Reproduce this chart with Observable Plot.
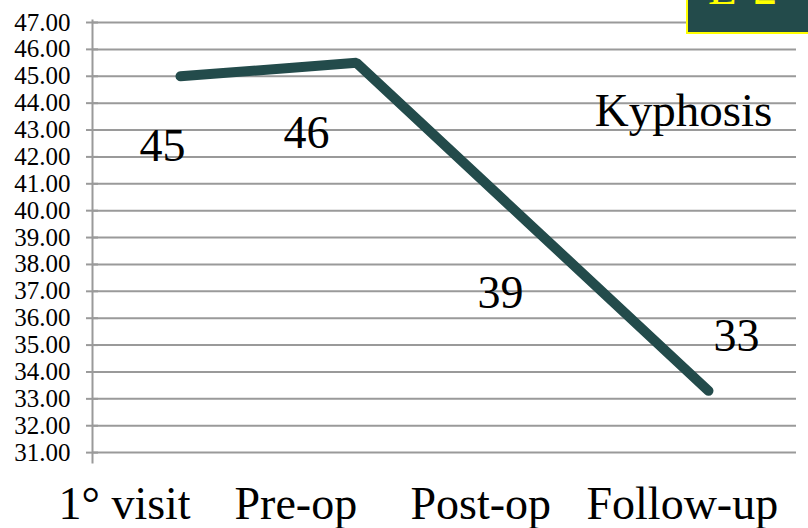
<!DOCTYPE html>
<html><head><meta charset="utf-8">
<script src="https://cdn.jsdelivr.net/npm/d3@7"></script>
<script src="https://cdn.jsdelivr.net/npm/@observablehq/plot@0.6"></script>
<style>
body{margin:0;background:#fff;overflow:hidden}
#wrap{position:relative;width:808px;height:528px;overflow:hidden}
#badge{position:absolute;z-index:2;left:686px;top:-40px;width:200px;height:70px;background:#234b4b;border:2px solid #ffff00;overflow:hidden}
#badge span{position:absolute;left:20px;top:2px;font-family:"Liberation Serif",serif;font-size:48px;line-height:48px;color:#ffff00;white-space:nowrap}
</style></head><body>
<div id="wrap"><div id="badge"><span>L·2</span></div></div>
<script>
const categories = ["1° visit", "Pre-op", "Post-op", "Follow-up"];
const values = [45.0, 45.5, 39.4, 33.3];
const valueLabels = ["45", "46", "39", "33"];
const yTicks = [31, 32, 33, 34, 35, 36, 37, 38, 39, 40, 41, 42, 43, 44, 45, 46, 47];
const seriesName = "Kyphosis";

const rows = categories.map((c, i) => ({c, v: values[i], t: valueLabels[i]}));
const font = "'Liberation Serif', 'Times New Roman', serif";
const lineColor = "#234b4b";
const labelOffsets = [[-18, 70], [-50, 70], [-32, 66], [28, -55]];

const chart = Plot.plot({
  width: 808,
  height: 528,
  marginLeft: 92,
  marginRight: 12,
  marginTop: 22,
  marginBottom: 49,
  style: {fontFamily: font, color: "#000", background: "#fff"},
  x: {type: "point", domain: categories, padding: 0.5, axis: null},
  y: {domain: [30, 47], axis: null},
  marks: [
    Plot.gridY(yTicks, {stroke: "#9a9a9a", strokeOpacity: 1, strokeWidth: 2}),
    Plot.frame({anchor: "left", stroke: "#9a9a9a", strokeWidth: 2, insetTop: -2, insetBottom: 17}),
    Plot.tickY(yTicks, {y: d => d, frameAnchor: "left", stroke: "#9a9a9a", strokeWidth: 2, insetLeft: -6, insetRight: 698}),
    Plot.text(yTicks, {y: d => d, frameAnchor: "left", text: d => d.toFixed(2), fontSize: 25, fontFamily: font,
      fill: "#000", textAnchor: "end", lineAnchor: "middle", dx: -22}),
    Plot.line(rows, {x: "c", y: "v", stroke: lineColor, strokeWidth: 10, strokeLinecap: "round", strokeLinejoin: "miter"}),
    ...rows.map((r, i) => Plot.text([r], {
      x: "c", y: "v", text: "t", fontSize: 46, fontFamily: font, fill: "#000",
      dx: labelOffsets[i][0], dy: labelOffsets[i][1], lineAnchor: "middle"
    })),
    Plot.text([seriesName], {frameAnchor: "top-right", text: d => d, fontSize: 47, fontFamily: font, fill: "#000",
      textAnchor: "middle", lineAnchor: "middle", dx: -113, dy: 88}),
    Plot.text(categories, {x: d => d, frameAnchor: "bottom", text: d => d, fontSize: 46, fontFamily: font, fill: "#000",
      textAnchor: "start", lineAnchor: "middle", dx: -122, dy: 25})
  ]
});
document.getElementById("wrap").prepend(chart);
</script>
</body></html>
